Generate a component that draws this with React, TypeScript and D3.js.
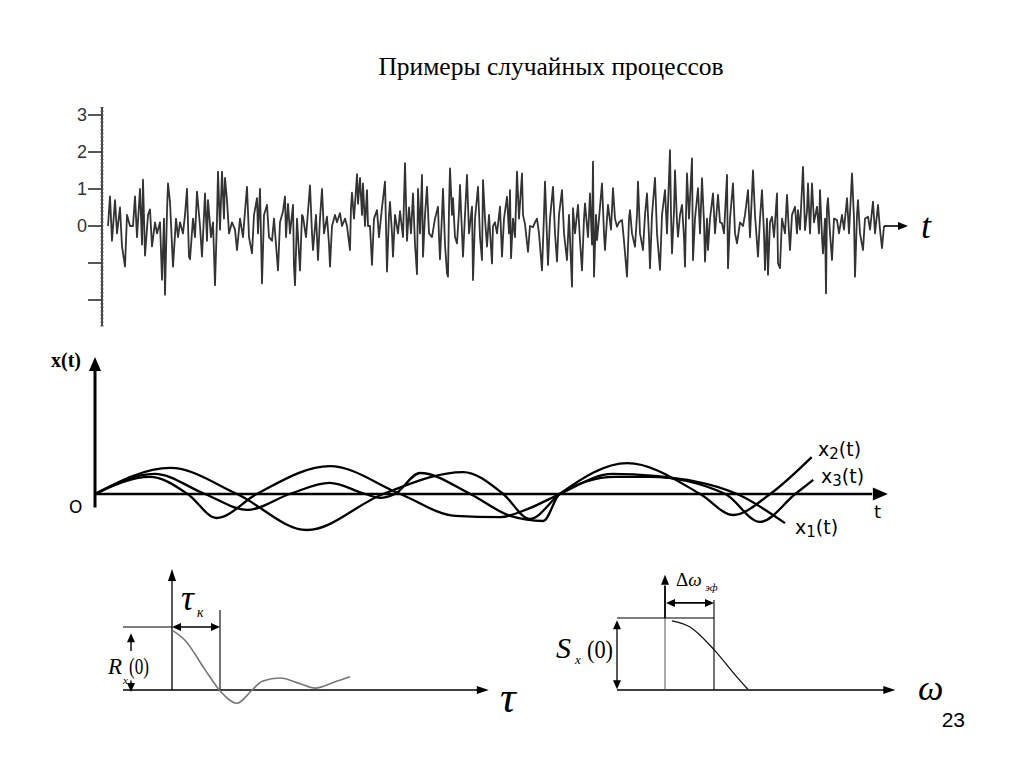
import React from "react";
import * as d3 from "d3";

// ---------- data ----------
const TITLE = "Примеры случайных процессов";
const PAGE_NUMBER = "23";

// top panel: sample realisation of a noise process [t, x]
const NOISE: [number, number][] = [
  [8,0],[10,0.8],[12,-0.4],[15,0.7],[17,-0.2],[20,0.5],[22,-0.55],[25,-1.1],[27,0.3],[30,0],[33,0],[35,0.8],[37,-0.3],[40,1.0],[42,-0.5],[43,1.25],[45,-0.8],[48,0.3],[50,0.45],[52,-0.55],[55,0.1],[57,-0.2],[60,0.1],[62,-1.45],[64,0.2],[65,-1.86],[67,0.4],[68,1.15],[70,0.65],[73,-1.1],[76,0.2],[78,-0.3],[80,0.1],[83,-0.2],[85,0.3],[87,1.0],[89,-0.83],[90,-0.9],[93,0.2],[95,-0.3],[97,0.93],[100,0],[102,-0.83],[104,0.3],[105,0.88],[107,-0.4],[108,0.7],[111,-0.3],[113,0.1],[115,-1.6],[117,0.2],[118,1.47],[120,-0.1],[122,1.47],[124,0.2],[125,1.3],[127,0.7],[129,-0.2],[132,0.1],[135,-0.1],[137,-0.65],[140,0.2],[143,-0.3],[145,0.4],[147,1.06],[149,-0.3],[152,-0.74],[154,0.3],[157,0.75],[158,-0.2],[160,1.0],[162,-1.55],[164,0.3],[167,0.57],[169,-0.3],[172,-0.4],[174,0.2],[176,-0.5],[178,-1.2],[180,0.1],[183,0.4],[185,0.8],[186,-0.3],[188,0.6],[190,-0.2],[193,0.57],[194,-1.1],[195,-1.6],[197,0.2],[200,-1.2],[202,0.3],[203,0.25],[206,-0.3],[208,0.4],[210,1.1],[212,-0.2],[213,-0.65],[216,0.3],[218,-0.92],[220,0.2],[222,1.0],[224,-0.2],[227,0.25],[229,-0.5],[230,-1.1],[232,0],[235,0.3],[237,0.1],[240,0.35],[242,0],[245,0.2],[247,0],[250,-0.65],[251,0.5],[252,0.9],[254,0.2],[257,1.4],[258,0.6],[260,1.3],[262,0.3],[263,1.15],[265,0],[267,0.97],[268,0],[270,0],[272,-1.05],[274,0.2],[277,0.43],[279,-0.3],[282,0.5],[285,1.2],[287,-1.23],[289,0.3],[290,0.65],[292,-0.2],[293,-0.83],[295,0.3],[298,-0.2],[300,0.4],[303,-0.3],[305,1.7],[307,-0.4],[309,0.5],[311,-0.2],[313,0.88],[315,-0.5],[317,-1.3],[318,1.0],[320,-0.2],[322,1.38],[323,-0.83],[325,0.3],[327,1.06],[329,-0.2],[332,-0.3],[335,0.2],[338,0.52],[339,-0.3],[340,-0.9],[342,0.3],[343,1.0],[345,-0.5],[347,-1.28],[348,-1.37],[349,0.5],[350,1.56],[352,0.3],[353,0.75],[355,-0.3],[357,-0.47],[359,0.4],[360,1.11],[362,-0.2],[363,-0.83],[365,0.3],[367,1.38],[369,-0.2],[372,0.52],[373,-1.46],[375,0.2],[378,1.06],[380,-0.3],[382,-0.92],[383,1.24],[385,0.2],[387,-0.56],[389,0.3],[392,-1.01],[393,0],[395,0.1],[397,-0.2],[400,0.52],[402,-0.83],[404,0.2],[407,0.79],[409,-0.2],[410,0.97],[411,-0.87],[413,0.2],[415,-0.3],[417,1.47],[419,0.2],[422,1.42],[423,0.3],[425,0.05],[428,-0.7],[430,0],[433,-0.03],[435,0.1],[437,0.2],[439,-0.2],[442,-1.2],[444,0.3],[445,1.2],[447,-0.3],[448,-1.05],[450,0.2],[453,1.06],[455,-0.2],[457,-0.96],[459,0.3],[462,0.97],[464,-0.2],[467,-0.92],[469,0.3],[472,-1.64],[473,0.48],[475,-0.2],[478,0.57],[480,-0.4],[482,-1.2],[484,0.2],[485,0.61],[488,-0.3],[490,0.88],[492,-0.5],[493,1.74],[494,-1.37],[496,0.3],[497,-0.38],[499,0.2],[502,1.15],[504,-0.2],[505,-0.65],[507,0.2],[508,0.57],[511,-0.1],[513,1.02],[515,0.2],[517,-0.02],[519,0.1],[522,0.16],[524,-0.4],[527,-1.37],[529,0.2],[530,0.43],[532,-0.2],[535,-0.56],[537,0.3],[538,1.2],[540,-0.2],[543,-0.65],[545,0.3],[547,0.88],[549,-0.3],[550,-1.14],[552,0.3],[555,1.3],[557,-0.2],[560,-1.19],[562,0.3],[565,0.97],[567,-0.2],[570,2.05],[571,0.3],[572,-0.74],[574,0.4],[575,1.5],[577,0.1],[578,-0.29],[580,0.3],[582,0.57],[584,-0.3],[585,-1.1],[586,0.3],[587,1.42],[589,0.2],[592,1.83],[593,-0.92],[595,0.2],[598,1.02],[600,-0.2],[602,1.29],[604,0.1],[605,-0.96],[607,0.2],[608,-0.65],[610,0.2],[613,0.88],[615,-0.2],[618,0.84],[620,0.1],[622,0.07],[624,-0.2],[627,1.38],[628,-1.14],[630,0.2],[633,1.15],[635,-0.2],[637,-0.47],[640,0.1],[643,0],[645,0.3],[648,0.97],[650,-0.3],[653,1.5],[655,0.3],[658,-0.83],[660,0.2],[662,0.97],[664,-0.2],[665,-1.19],[667,0.2],[668,-1.32],[670,0.1],[672,0.25],[674,-0.3],[677,0.88],[678,-1.01],[680,-1.14],[682,0.2],[685,-0.2],[687,0.84],[689,-0.2],[690,-0.65],[692,0.3],[695,0.52],[697,-0.2],[698,0.43],[700,-0.1],[703,1.6],[705,-0.11],[707,0.4],[708,1.15],[710,-0.2],[712,1.15],[714,0.1],[717,0.52],[719,-0.2],[720,0.97],[722,-0.3],[723,-0.74],[725,0.2],[726,-1.82],[727,0.5],[728,0.75],[730,-0.2],[732,-0.92],[734,0.2],[737,0.16],[739,-0.2],[742,0.3],[744,-0.1],[747,0.75],[749,-0.2],[752,1.42],[754,0.2],[755,-1.37],[757,0.3],[758,0.7],[760,-0.2],[763,-0.65],[765,0.2],[768,0.25],[770,-0.1],[773,0.66],[775,-0.2],[778,0.57],[780,-0.1],[782,-0.6],[784,0]
];
const NOISE_TICKS = [3, 2, 1, 0, -1, -2];
const NOISE_TICK_LABELS = ["3", "2", "1", "0", "", ""];

// middle panel: three realisations x1(t), x2(t), x3(t)  [t, x]
const X1: [number, number][] = [
  [0,0],[0.70,0.57],[1.18,0],[1.55,-0.80],[2.06,0],[2.99,0.93],[3.89,0],[4.59,-0.73],[5.16,-0.77],[5.54,-0.47],[5.92,0],[6.59,0.67],[7.13,0.60],[8.18,0],[8.79,-0.97]
];
const X2: [number, number][] = [
  [0,0],[0.96,0.87],[1.81,0],[2.70,-1.20],[3.67,0],[4.69,0.73],[5.20,0],[5.54,-0.83],[5.92,0],[6.78,1.03],[7.71,0],[8.13,-0.70],[8.60,0],[9.13,1.23]
];
const X3: [number, number][] = [
  [0,0],[0.76,0.67],[1.40,0],[1.94,-0.53],[2.48,0],[2.99,0.37],[3.44,0],[3.63,-0.13],[3.82,0],[4.14,0.70],[4.78,0],[5.29,-0.73],[5.71,-0.90],[5.92,0],[6.62,0.57],[7.07,0.57],[8.03,0],[8.47,-0.93],[8.92,0],[9.15,0.47]
];
const SERIES_LABELS = ["x", "2", "(t)", "x", "3", "(t)", "x", "1", "(t)"];

// bottom-left: correlation function R(τ) [τ/τк, R/R(0)]
const R_CURVE: [number, number][] = [
  [0,0.95],[0.27,0.79],[0.69,0.32],[1.02,-0.03],[1.35,-0.21],[1.67,0],[1.88,0.14],[2.25,0.19],[2.67,0.10],[2.98,0.03],[3.40,0.13],[3.71,0.21]
];
// bottom-right: spectral density S(ω) [ω/Δωэф, S/S(0)]
const S_CURVE: [number, number][] = [
  [0.14,0.96],[0.51,0.875],[1,0.56],[1.43,0.21],[1.69,0.01]
];

// ---------- helpers ----------
function arrow(x: number, y: number, dir: "r" | "l" | "u" | "d", len: number, hw: number) {
  let pts: number[][] = [];
  if (dir === "r") pts = [[x, y], [x - len, y - hw], [x - len, y + hw]];
  if (dir === "l") pts = [[x, y], [x + len, y - hw], [x + len, y + hw]];
  if (dir === "u") pts = [[x, y], [x - hw, y + len], [x + hw, y + len]];
  if (dir === "d") pts = [[x, y], [x - hw, y - len], [x + hw, y - len]];
  return <polygon points={pts.map((p) => p.join(",")).join(" ")} fill="#000" />;
}

export default function App() {
  // top panel scales
  const tN = d3.scaleLinear().domain([0, 800]).range([100, 900]);
  const yN = d3.scaleLinear().domain([-2, 3]).range([300, 115]);
  const noiseLine = d3.line<[number, number]>().x((d) => tN(d[0])).y((d) => yN(d[1]));
  const beads = d3.range(-2.7, 3.25, 0.1);

  // middle panel scales
  const tM = d3.scaleLinear().domain([0, 10]).range([95, 880]);
  const yM = d3.scaleLinear().domain([-1, 1]).range([524, 464]);
  const midLine = d3.line<[number, number]>().x((d) => tM(d[0])).y((d) => yM(d[1])).curve(d3.curveMonotoneX);

  // bottom-left scales
  const tauS = d3.scaleLinear().domain([0, 1]).range([172, 220]);
  const rS = d3.scaleLinear().domain([0, 1]).range([690, 627]);
  const rLine = d3.line<[number, number]>().x((d) => tauS(d[0])).y((d) => rS(d[1])).curve(d3.curveMonotoneX);

  // bottom-right scales
  const wS = d3.scaleLinear().domain([0, 1]).range([665, 714]);
  const sS = d3.scaleLinear().domain([0, 1]).range([690, 618]);
  const sLine = d3.line<[number, number]>().x((d) => wS(d[0])).y((d) => sS(d[1])).curve(d3.curveMonotoneX);

  const serif = "'Liberation Serif', 'Times New Roman', serif";
  const sans = "'DejaVu Sans', Verdana, sans-serif";
  const last = (a: [number, number][]) => a[a.length - 1];

  return (
    <svg width={1024} height={767} style={{ position: "absolute", left: 0, top: 0, background: "#fff" }}>
      <rect width={1024} height={767} fill="#fff" />
      {/* title */}
      <text x={551} y={75} textAnchor="middle" fontFamily={serif} fontSize={25.5} fill="#000">{TITLE}</text>

      {/* ---------- top panel ---------- */}
      <g>
        <line x1={tN(2)} x2={tN(2)} y1={yN(3.2)} y2={yN(-2.7)} stroke="#444" strokeWidth={2} />
        {beads.map((b, i) => (
          <line key={i} x1={tN(0.5)} x2={tN(3.5)} y1={yN(b)} y2={yN(b)} stroke="#555" strokeWidth={1.2} />
        ))}
        {NOISE_TICKS.map((v, i) => (
          <g key={v}>
            <line x1={tN(-12)} x2={tN(2)} y1={yN(v)} y2={yN(v)} stroke="#444" strokeWidth={1.8} />
            {NOISE_TICK_LABELS[i] && (
              <text x={tN(-13)} y={yN(v) + 6} textAnchor="end" fontFamily="'Liberation Sans', Arial, sans-serif" fontSize={18} fill="#333">
                {NOISE_TICK_LABELS[i]}
              </text>
            )}
          </g>
        ))}
        <path d={noiseLine(NOISE) || ""} fill="none" stroke="#333" strokeWidth={1.8} strokeLinejoin="round" />
        <line x1={tN(last(NOISE)[0])} x2={tN(800)} y1={yN(0)} y2={yN(0)} stroke="#000" strokeWidth={1.6} />
        {arrow(tN(808), yN(0), "r", 10, 4)}
        <text x={921} y={238} fontFamily={serif} fontStyle="italic" fontSize={36} fill="#000">t</text>
      </g>

      {/* ---------- middle panel ---------- */}
      <g>
        <line x1={tM(0)} x2={tM(0)} y1={yM(-0.45)} y2={yM(4.3)} stroke="#000" strokeWidth={3} />
        {arrow(tM(0), yM(4.57), "u", 14, 6)}
        <line x1={tM(0)} x2={tM(9.9)} y1={yM(0)} y2={yM(0)} stroke="#000" strokeWidth={2.4} />
        {arrow(tM(10.1), yM(0), "r", 15, 6.5)}
        {[X1, X2, X3].map((s, i) => (
          <path key={i} d={midLine(s) || ""} fill="none" stroke="#000" strokeWidth={2.3} />
        ))}
        <text x={51} y={367} fontFamily={serif} fontWeight="bold" fontSize={20} fill="#000">x(t)</text>
        <text x={69} y={513} fontFamily={sans} fontSize={17} fill="#000">O</text>
        <text x={874} y={518} fontFamily={sans} fontSize={18} fill="#000">t</text>
        {[X2, X3, X1].map((s, i) => {
          const [lx, ly] = [[818, 456], [821, 483], [795, 534]][i];
          return (
            <text key={i} x={lx} y={ly} fontFamily={sans} fontSize={19} fill="#000">
              {SERIES_LABELS[i * 3]}
              <tspan fontSize={15} dy={3}>{SERIES_LABELS[i * 3 + 1]}</tspan>
              <tspan dy={-3}>{SERIES_LABELS[i * 3 + 2]}</tspan>
            </text>
          );
        })}
      </g>

      {/* ---------- bottom-left: R(τ) ---------- */}
      <g>
        <line x1={123} x2={tauS(6.45)} y1={rS(0)} y2={rS(0)} stroke="#000" strokeWidth={1.3} />
        {arrow(tauS(6.6), rS(0), "r", 12, 4)}
        <line x1={tauS(0)} x2={tauS(0)} y1={rS(0)} y2={rS(1.8)} stroke="#000" strokeWidth={1.3} />
        {arrow(tauS(0), rS(1.92), "u", 12, 4)}
        <line x1={123} x2={tauS(0)} y1={rS(1)} y2={rS(1)} stroke="#000" strokeWidth={1.1} />
        <line x1={tauS(1)} x2={tauS(1)} y1={rS(0)} y2={rS(1.27)} stroke="#000" strokeWidth={1.1} />
        <line x1={tauS(0.15)} x2={tauS(0.85)} y1={rS(1)} y2={rS(1)} stroke="#000" strokeWidth={1.6} />
        {arrow(tauS(0), rS(1), "l", 9, 4)}
        {arrow(tauS(1), rS(1), "r", 9, 4)}
        <line x1={131} x2={131} y1={rS(0.8)} y2={rS(0.62)} stroke="#000" strokeWidth={1.4} />
        <line x1={131} x2={131} y1={rS(0.15)} y2={rS(0.05)} stroke="#000" strokeWidth={1.4} />
        {arrow(131, rS(0.9), "u", 9, 4)}
        {arrow(131, rS(-0.03), "d", 9, 4)}
        <path d={rLine(R_CURVE) || ""} fill="none" stroke="#777" strokeWidth={1.6} />
        <text x={181} y={610} fontFamily={serif} fontStyle="italic" fontSize={36} fill="#000">τ</text>
        <text x={197} y={617} fontFamily={serif} fontStyle="italic" fontSize={14} fill="#000">к</text>
        <text x={108} y={674} fontFamily={serif} fontStyle="italic" fontSize={23} fill="#000">R</text>
        <text x={123} y={684} fontFamily={serif} fontStyle="italic" fontSize={11} fill="#000">x</text>
        <text x={129} y={674} fontFamily={serif} fontSize={23} textLength={20} lengthAdjust="spacingAndGlyphs" fill="#000">(0)</text>
        <text x={500} y={712} fontFamily={serif} fontStyle="italic" fontSize={44} fill="#000">τ</text>
      </g>

      {/* ---------- bottom-right: S(ω) ---------- */}
      <g>
        <line x1={617} x2={wS(4.5)} y1={sS(0)} y2={sS(0)} stroke="#000" strokeWidth={1.3} />
        {arrow(wS(4.7), sS(0), "r", 12, 4)}
        <line x1={wS(0)} x2={wS(0)} y1={sS(0)} y2={sS(1)} stroke="#555" strokeWidth={1} />
        <line x1={wS(0)} x2={wS(0)} y1={sS(1)} y2={sS(1.45)} stroke="#000" strokeWidth={1.8} />
        {arrow(wS(0), sS(1.6), "u", 10, 4)}
        <line x1={617} x2={wS(1)} y1={sS(1)} y2={sS(1)} stroke="#000" strokeWidth={1.1} />
        <line x1={wS(1)} x2={wS(1)} y1={sS(0)} y2={sS(1.25)} stroke="#000" strokeWidth={1.1} />
        <line x1={wS(0.15)} x2={wS(0.85)} y1={sS(1.21)} y2={sS(1.21)} stroke="#000" strokeWidth={1.8} />
        {arrow(wS(0.02), sS(1.21), "l", 9, 4)}
        {arrow(wS(1), sS(1.21), "r", 9, 4)}
        <line x1={617} x2={617} y1={sS(0.9)} y2={sS(0.08)} stroke="#000" strokeWidth={1.3} />
        {arrow(617, sS(0.97), "u", 9, 4)}
        {arrow(617, sS(0.01), "d", 9, 4)}
        <path d={sLine(S_CURVE) || ""} fill="none" stroke="#111" strokeWidth={1.3} />
        <text x={676} y={586} fontFamily={serif} fontSize={19} fill="#000">Δ<tspan fontStyle="italic">ω</tspan></text>
        <text x={705} y={591} fontFamily={serif} fontStyle="italic" fontSize={11} fill="#000">эф</text>
        <text x={556} y={658} fontFamily={serif} fontStyle="italic" fontSize={30} fill="#000">S</text>
        <text x={575} y={664} fontFamily={serif} fontStyle="italic" fontSize={13} fill="#000">x</text>
        <text x={587} y={658} fontFamily={serif} fontSize={26} textLength={26} lengthAdjust="spacingAndGlyphs" fill="#000">(0)</text>
        <text x={918} y={700} fontFamily={serif} fontStyle="italic" fontSize={36} fill="#000">ω</text>
      </g>

      <text x={965} y={727} textAnchor="end" fontFamily="'Liberation Sans', Arial, sans-serif" fontSize={21} fill="#000">{PAGE_NUMBER}</text>
    </svg>
  );
}
